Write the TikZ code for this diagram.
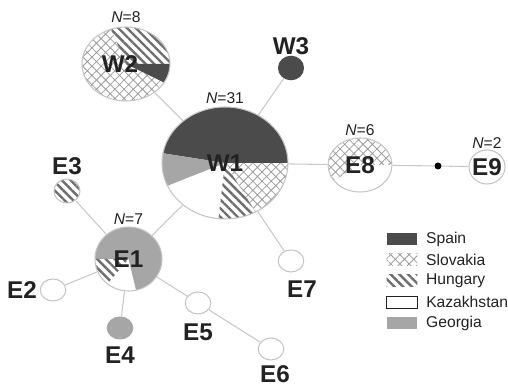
\documentclass[tikz,border=0pt]{standalone}
\usepackage{fontspec}
\setmainfont{Liberation Sans}
\usetikzlibrary{positioning,shapes.geometric,patterns.meta,backgrounds}
\definecolor{ink}{HTML}{222222}
\definecolor{spaingray}{HTML}{4B4B4B}
\definecolor{georgiagray}{HTML}{A6A6A6}
\definecolor{hatchgray}{HTML}{6E6E6E}
\definecolor{crossgray}{HTML}{9C9C9C}
\definecolor{ringgray}{HTML}{C4C4C4}
\definecolor{linkgray}{HTML}{C8C8C8}
\tikzset{
  hap/.style={ellipse,draw=ringgray,line width=0.6pt,inner sep=0pt},
  minihap/.style={hap,minimum width=0.51cm,minimum height=0.44cm},
  link/.style={draw=linkgray,line width=0.6pt},
  spainfill/.style={fill=spaingray},
  georgiafill/.style={fill=georgiagray},
  slovakfill/.style={pattern={Hatch[angle=45,distance=3.7pt,line width=0.45pt]},pattern color=crossgray},
  hungaryfill/.style={pattern={Lines[angle=-45,distance=3.5pt,line width=1.35pt]},pattern color=hatchgray},
  hlabel/.style={inner sep=0pt,font=\fontsize{13.8}{15}\selectfont\bfseries,text=ink},
  nlabel/.style={inner sep=0pt,font=\fontsize{8.9}{10}\selectfont,text=ink},
  legbox/.style={minimum width=0.62cm,minimum height=0.24cm,inner sep=0pt},
  legtext/.style={inner sep=0pt,font=\fontsize{8.9}{10}\selectfont,text=ink}
}

\begin{document}
\begin{tikzpicture}[x=0.02cm,y=0.02cm]
  \useasboundingbox (0,0) rectangle (508,388);
  % haplotypes
  \node[hap,minimum width=2.52cm,minimum height=2.24cm] (W1) at (225,225) {};
  \node[hap,minimum width=1.76cm,minimum height=1.48cm] (W2) at (126,324) {};
  \node[hap,spainfill,draw=spaingray,minimum width=0.5cm,minimum height=0.47cm] (W3) at (291,320) {};
  \node[hap,minimum width=1.28cm,minimum height=1.08cm] (E8) at (360,223) {};
  \node[circle,fill=black,inner sep=0pt,minimum size=0.14cm] (mv) at (438,222) {};
  \node[hap,minimum width=0.72cm,minimum height=0.68cm] (E9) at (487,221) {};
  \node[hap,minimum width=1.34cm,minimum height=1.28cm] (E1) at (128.5,129) {};
  \node[minihap,hungaryfill,minimum width=0.52cm,minimum height=0.48cm] (E3) at (67,197) {};
  \node[minihap] (E2) at (53,98) {};
  \node[minihap,georgiafill,draw=georgiagray] (E4) at (120,60) {};
  \node[minihap] (E5) at (198,85) {};
  \node[minihap] (E6) at (271,39) {};
  \node[minihap] (E7) at (291,127) {};

  % links
  \draw[link] (W1) -- (W2);
  \draw[link] (W1) -- (W3);
  \draw[link] (W1) -- (E8);
  \draw[link] (E8) -- (mv);
  \draw[link] (mv) -- (E9);
  \draw[link] (W1) -- (E7);
  \draw[link] (W1) -- (E1);
  \draw[link] (E1) -- (E3);
  \draw[link] (E1) -- (E2);
  \draw[link] (E1) -- (E4);
  \draw[link] (E1) -- (E5);
  \draw[link] (E5) -- (E6);

  % pie slices
  \begin{scope}[on background layer]
    \fill[spainfill] (W1.center) -- ++(0:63 and 56) arc[start angle=0,end angle=170,x radius=63,y radius=56] -- cycle;
    \fill[georgiafill] (W1.center) -- ++(170:63 and 56) arc[start angle=170,end angle=204,x radius=63,y radius=56] -- cycle;
    \fill[hungaryfill] (W1.center) -- ++(264:63 and 56) arc[start angle=264,end angle=299,x radius=63,y radius=56] -- cycle;
    \fill[slovakfill] (W1.center) -- ++(299:63 and 56) arc[start angle=299,end angle=360,x radius=63,y radius=56] -- cycle;
    \fill[hungaryfill] (W2.center) -- ++(0:44 and 37) arc[start angle=0,end angle=110,x radius=44,y radius=37] -- cycle;
    \fill[slovakfill] (W2.center) -- ++(110:44 and 37) arc[start angle=110,end angle=330,x radius=44,y radius=37] -- cycle;
    \fill[spainfill] (W2.center) -- ++(330:44 and 37) arc[start angle=330,end angle=360,x radius=44,y radius=37] -- cycle;
    \fill[slovakfill] (E8.center) -- ++(0:32 and 27) arc[start angle=0,end angle=215,x radius=32,y radius=27] -- cycle;
    \fill[georgiafill] (E1.center) -- ++(-77:33.5 and 32) arc[start angle=-77,end angle=180,x radius=33.5,y radius=32] -- cycle;
    \fill[hungaryfill] (E1.center) -- ++(180:33.5 and 32) arc[start angle=180,end angle=231,x radius=33.5,y radius=32] -- cycle;
  \end{scope}

  % names
  \node[hlabel] (W1lab) at (W1) {W1};
  \node[hlabel] (W2lab) at ([xshift=-0.12cm]W2.center) {W2};
  \node[hlabel,above=0.02cm of W3] (W3lab) {W3};
  \node[hlabel] (E8lab) at (E8) {E8};
  \node[hlabel] (E9lab) at (E9) {E9};
  \node[hlabel] (E1lab) at (E1) {E1};
  \node[hlabel,above=0.06cm of E3] (E3lab) {E3};
  \node[hlabel,left=0.05cm of E2] (E2lab) {E2};
  \node[hlabel,below=0.13cm of E4] (E4lab) {E4};
  \node[hlabel,below=0.17cm of E5] (E5lab) {E5};
  \node[hlabel,below=0.09cm of E6,xshift=0.08cm] (E6lab) {E6};
  \node[hlabel,below=0.15cm of E7,xshift=0.22cm] (E7lab) {E7};

  % sample sizes
  \node[nlabel,above=0.05cm of W1] (W1n) {\textit{N}=31};
  \node[nlabel,above=0.06cm of W2] (W2n) {\textit{N}=8};
  \node[nlabel,above=0.02cm of E8] (E8n) {\textit{N}=6};
  \node[nlabel,above=0.02cm of E9] (E9n) {\textit{N}=2};
  \node[nlabel,above=0.03cm of E1] (E1n) {\textit{N}=7};

  % legend
  \node[legbox,spainfill] (legSpain) at (402,149) {};
  \node[legbox,slovakfill] (legSlovakia) at (402,128) {};
  \node[legbox,hungaryfill] (legHungary) at (402,107) {};
  \node[legbox,draw=ink,line width=0.5pt] (legKazakh) at (402,86) {};
  \node[legbox,georgiafill] (legGeorgia) at (402,65) {};
  \node[legtext,right=0.16cm of legSpain] (txtSpain) {Spain};
  \node[legtext,right=0.16cm of legSlovakia] (txtSlovakia) {Slovakia};
  \node[legtext,right=0.16cm of legHungary] (txtHungary) {Hungary};
  \node[legtext,right=0.16cm of legKazakh] (txtKazakh) {Kazakhstan};
  \node[legtext,right=0.16cm of legGeorgia] (txtGeorgia) {Georgia};
\end{tikzpicture}
\end{document}
